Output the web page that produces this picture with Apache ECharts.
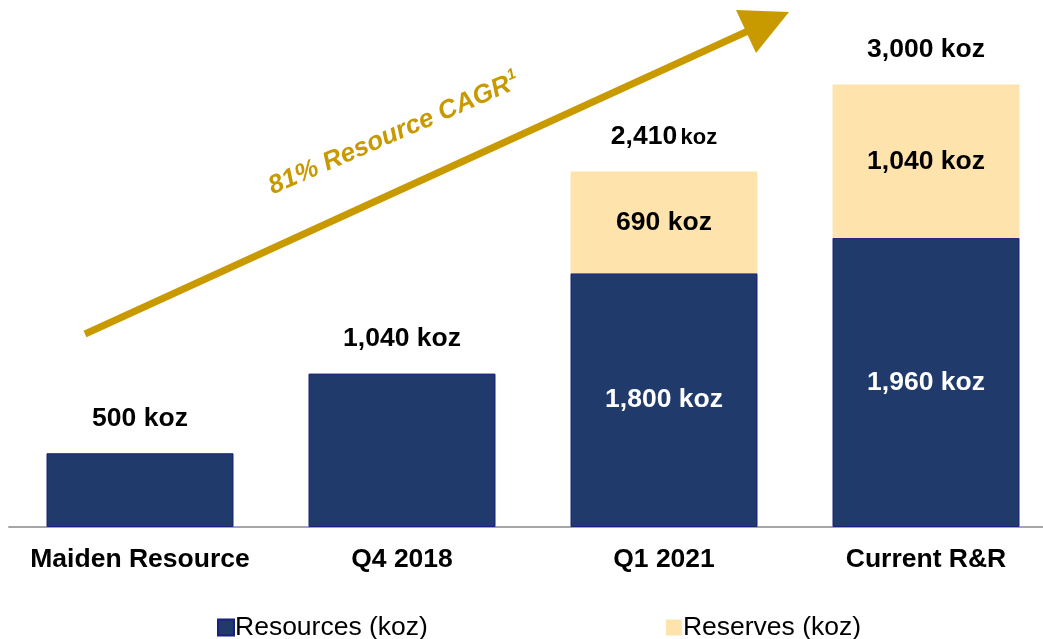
<!DOCTYPE html>
<html>
<head>
<meta charset="utf-8">
<script src="https://cdn.jsdelivr.net/npm/echarts@6/dist/echarts.min.js"></script>
<style>
html,body{margin:0;padding:0;background:#fff;overflow:hidden;width:1043px;height:639px;}
#c{width:1060px;height:639px;}
</style>
</head>
<body>
<div id="c"></div>
<script>
const categories = ['Maiden Resource', 'Q4 2018', 'Q1 2021', 'Current R&R'];
const resources = [500, 1040, 1720, 1960];
const reserves = [0, 0, 690, 1040];
const resourceLabels = ['', '', '1,800 koz', '1,960 koz'];
const reserveLabels = ['', '', '690 koz', '1,040 koz'];
const totalNumbers = ['500', '1,040', '2,410', '3,000'];
const arrowText = '81% Resource CAGR';

const NAVY = '#213A6C';
const CREAM = '#FFE3AC';
const GOLD = '#C99A00';
const FONT = '"Liberation Sans", Arial, sans-serif';
const FS = 26.5;

const chart = echarts.init(document.getElementById('c'), null, {renderer: 'canvas'});

const option = {
  animation: false,
  backgroundColor: '#fff',
  textStyle: {fontFamily: FONT},
  grid: {left: 9, right: 3, top: 84.5, bottom: 112, containLabel: false},
  legend: {
    data: ['Resources (koz)', 'Reserves (koz)'],
    left: 212, top: 609,
    itemWidth: 16, itemHeight: 16, itemGap: 238,
    icon: 'rect',
    textStyle: {fontSize: FS, color: '#000', fontFamily: FONT, padding: [0, 0, 0, -4]},
    selectedMode: false
  },
  xAxis: {
    type: 'category',
    data: categories,
    axisLine: {show: true, lineStyle: {color: '#A6A6A6', width: 2}},
    axisTick: {show: false},
    axisLabel: {interval: 0, fontSize: FS, fontWeight: 'bold', color: '#000', margin: 19, fontFamily: FONT}
  },
  yAxis: {
    type: 'value', min: 0, max: 3000, show: false,
    splitLine: {show: false}
  },
  series: [
    {
      name: 'Resources (koz)', type: 'bar', stack: 'a', barWidth: 187,
      data: resources,
      itemStyle: {color: NAVY, borderColor: '#1B1F7E', borderWidth: 1},
      label: {
        show: true, position: 'inside', color: '#fff', fontSize: FS, fontWeight: 'bold', fontFamily: FONT,
        formatter: p => resourceLabels[p.dataIndex]
      }
    },
    {
      name: 'Reserves (koz)', type: 'bar', stack: 'a', barWidth: 187,
      data: reserves,
      itemStyle: {color: CREAM},
      label: {
        show: true, position: 'inside', color: '#000', fontSize: FS, fontWeight: 'bold', fontFamily: FONT,
        formatter: p => reserveLabels[p.dataIndex]
      }
    },
    {
      name: 'Total', type: 'bar', stack: 'a', barWidth: 187,
      data: categories.map(() => 0),
      itemStyle: {color: 'transparent'},
      label: {
        show: true, position: 'top', distance: 21, color: '#000',
        formatter: p => p.dataIndex === 2
          ? '{n|' + totalNumbers[p.dataIndex] + '} {s|koz}'
          : '{n|' + totalNumbers[p.dataIndex] + ' koz}',
        rich: {
          n: {fontSize: FS, fontWeight: 'bold', color: '#000', fontFamily: FONT},
          s: {fontSize: 22, fontWeight: 'bold', color: '#000', fontFamily: FONT, padding: [2, 0, 0, 0]}
        }
      }
    }
  ],
  graphic: [
    {
      type: 'line', z: 10,
      shape: {x1: 85, y1: 334, x2: 748, y2: 31},
      style: {stroke: GOLD, lineWidth: 7}
    },
    {
      type: 'polygon', z: 10,
      shape: {points: [[736, 10], [789, 12], [756, 53]]},
      style: {fill: GOLD}
    },
    {
      type: 'text', z: 10,
      x: 394, y: 134, rotation: 23.5 * Math.PI / 180,
      style: {
        text: '{m|' + arrowText + '}{sup|1}',
        align: 'center', verticalAlign: 'middle',
        rich: {
          m: {fontSize: 26, fontWeight: 'bold', fontStyle: 'italic', fill: GOLD, fontFamily: FONT},
          sup: {fontSize: 15, fontWeight: 'bold', fontStyle: 'italic', fill: GOLD, fontFamily: FONT, padding: [0, 0, 15, 1]}
        }
      }
    }
  ]
};
chart.setOption(option);
</script>
</body>
</html>
